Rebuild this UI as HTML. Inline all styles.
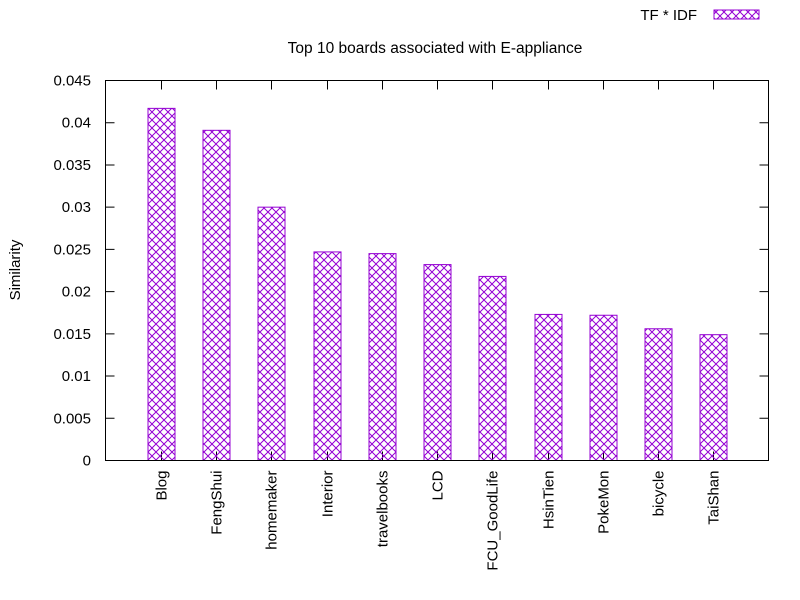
<!DOCTYPE html>
<html><head><meta charset="utf-8"><style>
html,body{margin:0;padding:0;background:#fff}
svg{display:block;font-family:"Liberation Sans",sans-serif}
</style></head><body>
<svg id="chart" width="800" height="600" viewBox="0 0 800 600">
<defs>
<pattern id="hatch" patternUnits="userSpaceOnUse" width="8" height="8">
<path d="M0,0 L8,8 M8,0 L0,8" stroke="#9400d3" stroke-width="1" fill="none"/>
</pattern>
</defs>
<text x="435" y="53" font-size="15.5" text-anchor="middle">Top 10 boards associated with E-appliance</text>
<text x="20" y="270" font-size="15" text-anchor="middle" transform="rotate(-90 20 270)">Similarity</text>
<g>
<text x="697" y="20" font-size="15" text-anchor="end">TF * IDF</text>
<rect x="714" y="10" width="45" height="9" fill="url(#hatch)" stroke="#9400d3"/>
</g>
<g id="axes"></g>
<g id="bars"></g>
<rect x="105.5" y="80.5" width="663" height="380" fill="none" stroke="#000"/>
</svg>
<script>
const categories = ["Blog","FengShui","homemaker","Interior","travelbooks","LCD","FCU_GoodLife","HsinTien","PokeMon","bicycle","TaiShan"];
const values = [0.0417,0.0391,0.0300,0.0247,0.0245,0.0232,0.0218,0.0173,0.0172,0.0156,0.0149];
const yTicks = [0,0.005,0.01,0.015,0.02,0.025,0.03,0.035,0.04,0.045];
const yTickLabels = ["0","0.005","0.01","0.015","0.02","0.025","0.03","0.035","0.04","0.045"];
const NS="http://www.w3.org/2000/svg";
const L=105.5,R=768.5,T=80.5,B=460.5,yMax=0.045;
const y=v=>B-(v/yMax)*(B-T);
const slot=(R-L)/(categories.length+1);
const x=i=>L+slot*(i+1);
const axes=document.getElementById('axes'),bars=document.getElementById('bars');
function mk(tag,attrs,parent){const e=document.createElementNS(NS,tag);for(const k in attrs)e.setAttribute(k,attrs[k]);parent.appendChild(e);return e;}
yTicks.forEach((t,i)=>{
  const yy=y(t);
  const ln=mk('path',{d:`M${L},${yy}h9M${R},${yy}h-9`,stroke:'#000'},axes);
  
  
  const tx=mk('text',{x:91,y:yy+5,'font-size':15,'text-anchor':'end'},axes);
  tx.textContent=yTickLabels[i];
  
  
});
categories.forEach((c,i)=>{
  const cx=Math.round(x(i))+0.5;
  const tk=mk('path',{d:`M${cx},${B}v-9M${cx},${T}v9`,stroke:'#000'},axes);
  
  
  const tx=mk('text',{x:cx+5,y:B+10,'font-size':15,'text-anchor':'end',transform:`rotate(-90 ${cx+5} ${B+10})`},axes);
  tx.textContent=c;
  
  
  const top=y(values[i]);
  const r=mk('rect',{x:cx-13.5,y:top,width:27,height:B-top,fill:'url(#hatch)',stroke:'#9400d3','stroke-width':1},bars);
  
  
});
</script>
</body></html>
